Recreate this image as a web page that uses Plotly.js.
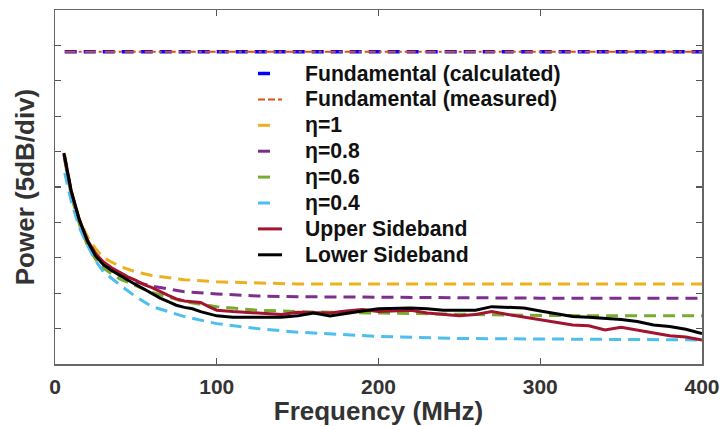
<!DOCTYPE html>
<html>
<head>
<meta charset="utf-8">
<script src="https://cdn.plot.ly/plotly-3.0.1.min.js"></script>
<style>html,body{margin:0;padding:0;background:#fff;}#chart{width:724px;height:426px;}</style>
</head>
<body>
<div id="chart"></div>
<script>
// Frequencies (MHz)
var fundFreq = [6, 400];
var fundCalc = [44.1, 44.1];
var fundMeas = [44.1, 44.1];

var theoryFreq = [6, 10, 15, 20, 25, 30, 40, 50, 60, 80, 100, 125, 150, 200, 250, 300, 350, 400];
var eta1   = [29.5, 24.5, 20.5, 18.0, 16.3, 15.0, 13.8, 13.0, 12.5, 11.9, 11.6, 11.4, 11.3, 11.3, 11.3, 11.3, 11.3, 11.3];
var eta08  = [29.2, 24.2, 20.2, 17.5, 15.6, 14.2, 12.5, 11.6, 11.0, 10.2, 9.9, 9.6, 9.5, 9.4, 9.35, 9.3, 9.3, 9.3];
var eta06  = [28.8, 23.8, 19.8, 16.8, 14.8, 13.5, 12.0, 11.0, 10.1, 8.8, 8.1, 7.6, 7.4, 7.2, 7.0, 6.85, 6.8, 6.8];
var eta04  = [27.0, 23.0, 19.3, 16.8, 14.6, 13.0, 11.2, 9.5, 8.1, 6.7, 5.7, 5.0, 4.5, 3.9, 3.6, 3.5, 3.4, 3.4];

var measFreq = [5.5, 10, 15, 20, 25, 30, 35, 40, 45, 50, 55, 60, 65, 70, 75, 80, 85, 90, 95, 100,
                110, 120, 130, 140, 150, 160, 170, 180, 190, 200, 210, 220, 230, 240, 250, 260, 270, 280, 290, 300,
                310, 320, 330, 340, 350, 360, 370, 380, 390, 400];
var upperSB = [29.6, 24.3, 20.4, 17.5, 15.6, 14.4, 13.6, 12.9, 12.3, 11.8, 11.2, 10.8, 10.2, 9.7, 9.2, 8.9, 8.8, 8.7, 8.1, 7.6,
               7.4, 7.3, 7.2, 7.0, 7.3, 7.3, 7.2, 7.5, 7.7, 7.4, 7.5, 7.6, 7.2, 7.0, 6.8, 7.0, 7.4, 7.0, 6.6, 6.2,
               5.8, 5.5, 5.4, 4.8, 5.2, 4.8, 4.5, 4.0, 3.8, 3.4];
var lowerSB = [29.8, 24.5, 20.4, 17.4, 15.3, 14.0, 13.2, 12.5, 11.8, 11.2, 10.6, 9.9, 9.3, 8.8, 8.3, 8.0, 7.8, 7.4, 7.1, 6.8,
               6.6, 6.6, 6.6, 6.6, 6.8, 7.2, 6.8, 7.2, 7.5, 7.8, 7.9, 7.9, 7.8, 7.6, 7.6, 7.6, 8.1, 8.0, 7.9, 7.5,
               7.1, 6.7, 6.6, 6.5, 6.3, 6.0, 5.5, 5.3, 4.9, 4.3];

var xTicks = [0, 100, 200, 300, 400];
var legendLabels = ['Fundamental (calculated)', 'Fundamental (measured)', 'η=1', 'η=0.8', 'η=0.6', 'η=0.4', 'Upper Sideband', 'Lower Sideband'];

var C = {calc:'#0000FF', meas:'#D95319', e1:'#EDB120', e08:'#7E2F8E', e06:'#77AC30', e04:'#4DBEEE', up:'#A2142F', low:'#000000'};
var theoDash = '12px,7px';

var traces = [
  {x: fundFreq, y: fundCalc, mode:'lines', line:{color:C.calc, width:3.5, dash:'12px,7px'}},
  {x: fundFreq, y: fundMeas, mode:'lines', line:{color:C.meas, width:2.2, dash:'11px,3px,3px,3px'}},
  {x: theoryFreq, y: eta1,  mode:'lines', line:{color:C.e1,  width:3, dash:theoDash}},
  {x: theoryFreq, y: eta08, mode:'lines', line:{color:C.e08, width:3, dash:theoDash}},
  {x: theoryFreq, y: eta06, mode:'lines', line:{color:C.e06, width:3, dash:theoDash}},
  {x: theoryFreq, y: eta04, mode:'lines', line:{color:C.e04, width:3, dash:theoDash}},
  {x: measFreq, y: upperSB, mode:'lines', line:{color:C.up,  width:3}},
  {x: measFreq, y: lowerSB, mode:'lines', line:{color:C.low, width:3}}
];
traces.forEach(function(t){ t.showlegend = false; t.hoverinfo = 'skip'; });

// Manual legend (positions in pixels converted to paper coords)
var L = 55, R = 702, T = 10, B = 364;
function px(x){ return (x - L) / (R - L); }
function py(y){ return (B - y) / (B - T); }
var rowY0 = 73.5, rowStep = 25.9;
var symColors = [C.calc, C.meas, C.e1, C.e08, C.e06, C.e04, C.up, C.low];
var annotations = [], shapes = [];
legendLabels.forEach(function(lbl, i){
  var yc = rowY0 + i * rowStep;
  annotations.push({xref:'paper', yref:'paper', x:px(303), y:py(yc), xanchor:'left', yanchor:'middle',
    text:lbl, showarrow:false, font:{family:'Liberation Sans, Arial, sans-serif', size:21.2, weight:'bold', color:'#111'}});
  var x1 = (i >= 6 || i === 1) ? 282 : 270;
  var w = (i === 0) ? 3.5 : (i === 1 ? 2 : 3);
  var dash = (i === 1) ? '7px,3px' : 'solid';
  shapes.push({type:'line', xref:'paper', yref:'paper', x0:px(258), x1:px(x1), y0:py(yc), y1:py(yc),
    line:{color:symColors[i], width:w, dash:dash}});
});

var axisFont = {family:'Liberation Sans, Arial, sans-serif', size:21, weight:'bold', color:'#333'};
var titleFont = {family:'Liberation Sans, Arial, sans-serif', size:26, weight:'bold', color:'#333'};

var layout = {
  width:724, height:426,
  margin:{l:L, r:724-R, t:T, b:426-B},
  paper_bgcolor:'#fff', plot_bgcolor:'#fff',
  showlegend:false,
  xaxis:{range:[0,400], tickvals:xTicks, ticktext:xTicks.map(String), ticks:'inside', ticklen:6, tickwidth:1.2, tickcolor:'#555',
         showline:true, linecolor:'#666', linewidth:1.5, mirror:'ticks', showgrid:false, zeroline:false,
         tickfont:axisFont, ticklabelstandoff:3,
         title:{text:'Frequency (MHz)', font:titleFont, standoff:5}},
  yaxis:{range:[0,50], dtick:5, ticks:'inside', ticklen:6, tickwidth:1.2, tickcolor:'#555', showticklabels:false,
         showline:true, linecolor:'#666', linewidth:1.5, mirror:'ticks', showgrid:false, zeroline:false,
         title:{text:'Power (5dB/div)', font:titleFont, standoff:11}},
  annotations:annotations,
  shapes:shapes
};

Plotly.newPlot('chart', traces, layout, {staticPlot:true, displayModeBar:false});
</script>
</body>
</html>
